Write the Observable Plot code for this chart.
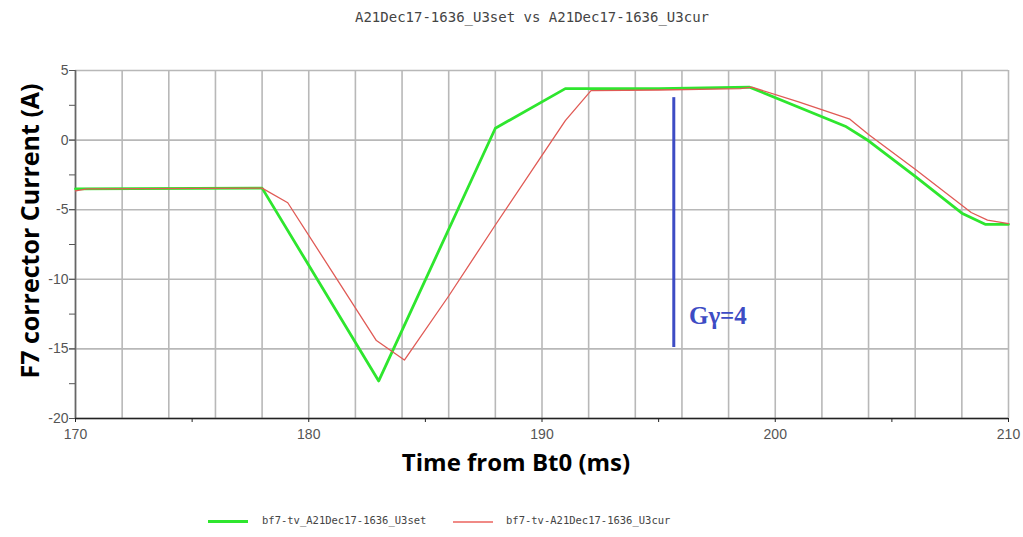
<!DOCTYPE html>
<html>
<head>
<meta charset="utf-8">
<script src="https://cdn.jsdelivr.net/npm/d3@7"></script>
<script src="https://cdn.jsdelivr.net/npm/@observablehq/plot@0.6"></script>
<style>
  body { margin: 0; background: #fff; width: 1023px; overflow: hidden; }
  #wrap { position: relative; width: 1023px; height: 537px; }
  #title { position: absolute; left: 355px; top: 9px; font: 14px "DejaVu Sans Mono", monospace; color: #444; white-space: nowrap; }
  #chart { position: absolute; left: 0; top: 40px; }
  #ylabel { position: absolute; left: 29px; top: 231px; transform: translate(-50%, -50%) rotate(-90deg); font: bold 25px "Open Sans", sans-serif; color: #000; white-space: nowrap; }
  .lg-line { position: absolute; height: 3px; }
  .lg-text { position: absolute; font: 10.5px "DejaVu Sans Mono", monospace; color: #444; white-space: nowrap; }
</style>
</head>
<body>
<div id="wrap">
  <div id="title"></div>
  <div id="chart"></div>
  <div id="ylabel"></div>
  <div id="legend"></div>
</div>
<script>
// ---- data ----
const titleText = "A21Dec17-1636_U3set vs A21Dec17-1636_U3cur";
const seriesNames = ["bf7-tv_A21Dec17-1636_U3set", "bf7-tv-A21Dec17-1636_U3cur"];
const seriesColors = ["#2ee62e", "#e05a55"];

const timeSet = [170, 178, 183, 188, 191, 195, 198.9, 203, 204, 206, 208, 209, 210];
const valSet  = [-3.5, -3.45, -17.3, 0.85, 3.7, 3.7, 3.8, 1.0, -0.05, -2.6, -5.25, -6.05, -6.05];

const timeCur = [170, 170.5, 178, 179.1, 182.9, 184.1, 186, 188, 190, 191, 192.1, 195, 198.5, 199, 201, 203.2, 204, 206, 208.4, 209.1, 210];
const valCur  = [-3.65, -3.5, -3.45, -4.5, -14.4, -15.8, -11.2, -6.1, -1.1, 1.4, 3.55, 3.6, 3.7, 3.8, 2.75, 1.5, 0.4, -2.1, -5.2, -5.75, -6.0];

const xTickLabels = [170, 180, 190, 200, 210];
const xTickMarks = [170, 175, 180, 185, 190, 195, 200, 205, 210];
const xGrid = d3.range(170, 211, 2);
const yTickLabels = [5, 0, -5, -10, -15, -20];
const yTickMarks = d3.range(-20, 5.01, 2.5);

const markerTime = [195.65];
const markerTop = [3.05];
const markerBottom = [-14.9];
const markerLabel = ["Gγ=4"];
const markerLabelTime = [196.3];
const markerLabelVal = [-12.65];

const xLabel = "Time from Bt0 (ms)";
const yLabel = "F7 corrector Current (A)";

// ---- build tables ----
const setData = timeSet.map((t, i) => ({t, v: valSet[i]}));
const curData = timeCur.map((t, i) => ({t, v: valCur[i]}));
const marker = markerTime.map((t, i) => ({t, y1: markerBottom[i], y2: markerTop[i]}));
const markerText = markerLabel.map((s, i) => ({s, t: markerLabelTime[i], v: markerLabelVal[i]}));

document.getElementById("title").textContent = titleText;
document.getElementById("ylabel").textContent = yLabel;

const tickFont = "Liberation Sans, Arial, sans-serif";

const chart = Plot.plot({
  width: 1023,
  height: 460,
  marginLeft: 75,
  marginRight: 15,
  marginTop: 30,
  marginBottom: 82,
  style: {background: "transparent", overflow: "visible"},
  x: {domain: [170, 210]},
  y: {domain: [-20, 5]},
  marks: [
    Plot.ruleX(xGrid, {stroke: "#b8b8b8", strokeWidth: 1.6}),
    Plot.ruleY(yTickLabels, {stroke: "#b8b8b8", strokeWidth: 1.6}),
    Plot.ruleX([170], {stroke: "#666", strokeWidth: 1.6}),
    Plot.ruleY([-20], {stroke: "#222", strokeWidth: 1.6}),
    Plot.axisY({ticks: yTickMarks, tickFormat: () => "", tickSize: 6, stroke: "#555", label: null}),
    Plot.axisY({ticks: yTickLabels, tickFormat: d => String(d), tickSize: 6, tickPadding: 1, fontSize: 14, fontFamily: tickFont, fill: "#555", stroke: "#555", label: null}),
    Plot.axisX({ticks: xTickMarks, tickFormat: () => "", tickSize: 4, stroke: "#222", label: null}),
    Plot.axisX({ticks: xTickLabels, tickFormat: d => String(d), tickSize: 0, tickPadding: 11, fontSize: 14, fontFamily: tickFont, fill: "#555", label: null}),
    Plot.line(setData, {x: "t", y: "v", stroke: seriesColors[0], strokeWidth: 2.8}),
    Plot.line(curData, {x: "t", y: "v", stroke: seriesColors[1], strokeWidth: 1.3}),
    Plot.ruleX(marker, {x: "t", y1: "y1", y2: "y2", stroke: "#3d4cc4", strokeWidth: 3}),
    Plot.text(markerText, {x: "t", y: "v", text: "s", textAnchor: "start", fill: "#3d4cc4", fontSize: 25, fontWeight: "bold", fontFamily: "Liberation Serif, Times New Roman, serif"}),
    Plot.text([xLabel], {frameAnchor: "bottom", dx: -26, dy: 52, text: d => d, fontSize: 24, fontWeight: "bold", fontFamily: "Open Sans, sans-serif", fill: "#000"})
  ]
});
document.getElementById("chart").appendChild(chart);

// ---- legend ----
const legend = document.getElementById("legend");
const lgLayout = [{line: 208, text: 262}, {line: 453, text: 506}];
seriesNames.forEach((name, i) => {
  const ln = document.createElement("div");
  ln.className = "lg-line";
  ln.style.left = lgLayout[i].line + "px";
  ln.style.top = "520px";
  ln.style.width = "40px";
  ln.style.background = seriesColors[i];
  if (i === 1) { ln.style.height = "2px"; ln.style.top = "521px"; ln.style.background = "#f08a86"; }
  legend.appendChild(ln);
  const tx = document.createElement("div");
  tx.className = "lg-text";
  tx.style.left = lgLayout[i].text + "px";
  tx.style.top = "514px";
  tx.textContent = name;
  legend.appendChild(tx);
});
</script>
</body>
</html>
